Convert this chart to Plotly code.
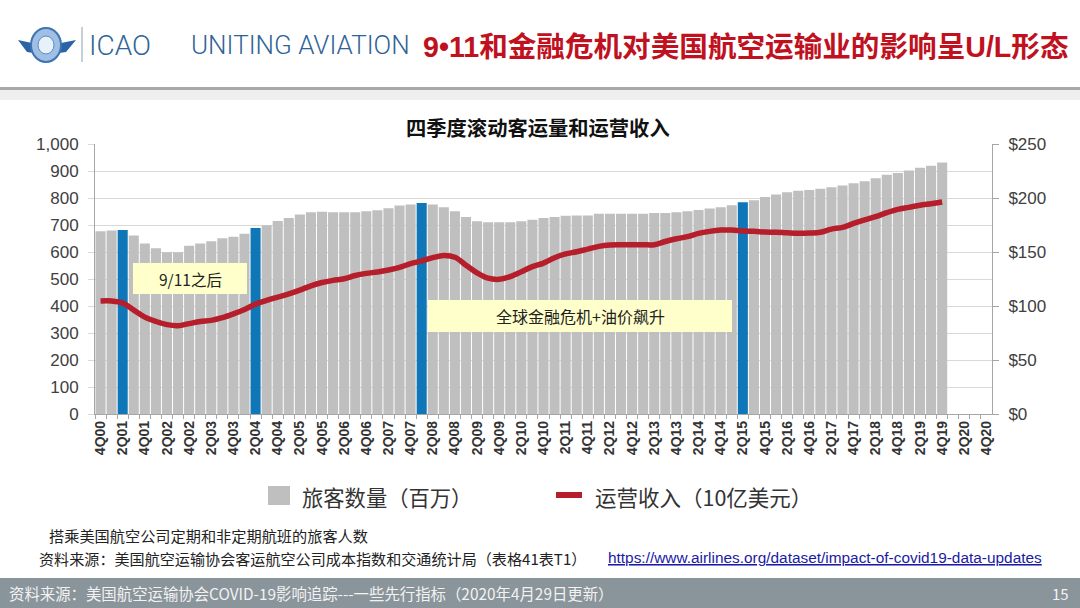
import plotly.graph_objects as go

W, H = 1080, 608


def fx(x):
    return x / W


def fy(y):
    return 1 - y / H


# ---------------- data ----------------
quarters = ["4Q00"] + [f"{q}Q{y:02d}" for y in range(1, 21) for q in range(1, 5)]

passengers = [678, 681, 683, 662, 633, 615, 600, 600, 624, 633, 641, 652, 658, 669,
              690, 700, 716, 727, 740, 748, 750, 748, 748, 748, 752, 756, 763, 773,
              777, 783, 777, 767, 752, 731, 715, 711, 711, 711, 715, 721, 727, 731,
              735, 736, 736, 743, 743, 743, 743, 743, 746, 746, 748, 752, 757, 762,
              767, 774, 785, 793, 805, 814, 822, 828, 831, 835, 841, 847, 856, 863,
              874, 887, 894, 903, 913, 921, 933]

revenue = [105, 105, 103, 96.5, 90, 86, 83, 82, 84, 86, 87, 89.5, 93, 97,
           102, 105.5, 108.5, 111.5, 115, 119, 122, 124, 125.5, 128.5, 130.5, 131.8, 133.6, 136,
           139.5, 142, 145, 147, 145.4, 138, 131, 126, 125, 127.5, 132, 136.7, 140, 145,
           148.5, 150.5, 153, 155.5, 156.8, 157, 157, 157, 157, 160, 162.5, 164.5, 167.5, 169.4,
           170.6, 170.6, 169.7, 169.4, 168.8, 168.5, 168, 167.6, 167.8, 168.5, 171.5, 173, 176.8, 180,
           183, 186.7, 189.8, 191.6, 193.5, 195, 196.6]

highlight = ["2Q01", "2Q04", "1Q08", "2Q15"]
left_ticks = [0, 100, 200, 300, 400, 500, 600, 700, 800, 900, 1000]
right_ticks = [0, 50, 100, 150, 200, 250]
right_ticktext = [f"${v}" for v in right_ticks]
x_ticktext = [q if i % 2 == 0 else "" for i, q in enumerate(quarters)]

bar_x = quarters[:len(passengers)]
bar_colors = ["#0f77b7" if q in highlight else "#bfbfbf" for q in bar_x]

# ---------------- figure ----------------
fig = go.Figure()
fig.add_trace(go.Bar(x=bar_x, y=passengers, marker=dict(color=bar_colors, line=dict(width=0)),
                     name="旅客数量（百万）", yaxis="y", showlegend=False))
fig.add_trace(go.Scatter(x=bar_x, y=revenue, mode="lines", name="运营收入（10亿美元）",
                         line=dict(color="#b51e2a", width=5.5, shape="spline", smoothing=1),
                         yaxis="y2", showlegend=False))

axis_col = "#a6a6a6"
grid_col = "#d9d9d9"
num_font = dict(family="Liberation Sans, Arial, sans-serif", size=17, color="#404040")
cjk = "Noto Sans CJK SC, sans-serif"

fig.update_layout(
    width=W, height=H, autosize=False,
    margin=dict(l=0, r=0, t=0, b=0, pad=0, autoexpand=False),
    paper_bgcolor="white", plot_bgcolor="white",
    bargap=0.09,
    xaxis=dict(
        type="category", categoryorder="array", categoryarray=quarters,
        range=[-0.5, len(quarters) - 0.5],
        domain=[fx(95), fx(992)], automargin=False,
        tickmode="array", tickvals=quarters, ticktext=x_ticktext,
        tickson="boundaries", ticks="outside", ticklen=4, tickcolor=axis_col,
        tickangle=-90, showgrid=False, showline=True, linecolor=axis_col, linewidth=1,
        tickfont=dict(family="Liberation Sans, Arial, sans-serif", size=14, color="#333333",
                      weight="bold"),
        fixedrange=True,
    ),
    yaxis=dict(
        range=[0, 1000], domain=[fy(414.3), fy(144.3)], automargin=False,
        tickmode="array", tickvals=left_ticks, tickformat=",",
        showgrid=True, gridcolor=grid_col, gridwidth=1, zeroline=False,
        showline=True, linecolor=axis_col, ticks="outside", ticklen=6, tickcolor=grid_col,
        ticklabelstandoff=6, tickfont=num_font, fixedrange=True,
    ),
    yaxis2=dict(
        range=[0, 250], overlaying="y", side="right", anchor="x", automargin=False,
        tickmode="array", tickvals=right_ticks, ticktext=right_ticktext,
        showgrid=False, zeroline=False, showline=True, linecolor=axis_col,
        ticks="outside", ticklen=6, tickcolor=axis_col, ticklabelstandoff=6,
        tickfont=num_font, fixedrange=True,
    ),
    hovermode=False,
)

shapes = []
annos = []

# header separator
shapes.append(dict(type="rect", xref="paper", yref="paper", x0=0, x1=1, y0=fy(90), y1=fy(87),
                   fillcolor="#a8a8a8", line=dict(width=0), layer="below"))
shapes.append(dict(type="rect", xref="paper", yref="paper", x0=0, x1=1, y0=fy(100), y1=fy(90),
                   fillcolor="#efefef", line=dict(width=0), layer="below"))

# simple logo
shapes.append(dict(type="path", xref="paper", yref="paper",
                   path=f"M {fx(18)} {fy(40)} L {fx(46)} {fy(46)} L {fx(76)} {fy(40)} L {fx(66)} {fy(52)} "
                        f"L {fx(46)} {fy(55)} L {fx(27)} {fy(52)} Z",
                   fillcolor="#2a63a6", line=dict(width=0)))
shapes.append(dict(type="circle", xref="paper", yref="paper", x0=fx(31), x1=fx(61), y0=fy(62), y1=fy(28),
                   fillcolor="#9fc0e4", line=dict(color="#3f74b3", width=2)))
shapes.append(dict(type="circle", xref="paper", yref="paper", x0=fx(38), x1=fx(54), y0=fy(54), y1=fy(36),
                   fillcolor="#e8f0f8", line=dict(color="#5a8cc4", width=1)))
shapes.append(dict(type="line", xref="paper", yref="paper", x0=fx(82), x1=fx(82), y0=fy(62), y1=fy(27),
                   line=dict(color="#8aa0b5", width=1)))

annos.append(dict(text="ICAO", x=fx(87), y=fy(45), xanchor="left", yanchor="middle",
                  font=dict(family="Roboto, sans-serif", size=28, color="#2e6496", weight=300)))
annos.append(dict(text="UNITING AVIATION", x=fx(189), y=fy(45), xanchor="left", yanchor="middle",
                  font=dict(family="Roboto, sans-serif", size=26, color="#2e6496", weight=300)))
annos.append(dict(text="<span style='font-family:Liberation Sans, Arial, sans-serif'>9•11</span>"
                       "和金融危机对美国航空运输业的影响呈"
                       "<span style='font-family:Liberation Sans, Arial, sans-serif'>U/L</span>形态",
                  x=fx(421), y=fy(44), xanchor="left", yanchor="middle",
                  font=dict(family=cjk, size=28.6, color="#c0111f", weight="bold")))

# chart title
annos.append(dict(text="四季度滚动客运量和运营收入", x=fx(538), y=fy(127), xanchor="center", yanchor="middle",
                  font=dict(family=cjk, size=20.3, color="#111111", weight="bold")))

# annotation boxes
shapes.append(dict(type="rect", xref="paper", yref="paper", x0=fx(133), x1=fx(247), y0=fy(294), y1=fy(263),
                   fillcolor="#ffffcc", line=dict(width=0)))
annos.append(dict(text="9/11之后", x=fx(190), y=fy(279), xanchor="center", yanchor="middle",
                  font=dict(family=cjk, size=15.5, color="#222222")))
shapes.append(dict(type="rect", xref="paper", yref="paper", x0=fx(428), x1=fx(732), y0=fy(332), y1=fy(300),
                   fillcolor="#ffffcc", line=dict(width=0)))
annos.append(dict(text="全球金融危机+油价飙升", x=fx(580), y=fy(316), xanchor="center", yanchor="middle",
                  font=dict(family=cjk, size=16, color="#222222")))

# legend
shapes.append(dict(type="rect", xref="paper", yref="paper", x0=fx(268), x1=fx(290), y0=fy(505), y1=fy(486),
                   fillcolor="#bfbfbf", line=dict(width=0)))
annos.append(dict(text="旅客数量（百万）", x=fx(300), y=fy(496), xanchor="left", yanchor="middle",
                  font=dict(family=cjk, size=21.3, color="#333333")))
shapes.append(dict(type="line", xref="paper", yref="paper", x0=fx(556), x1=fx(582), y0=fy(495), y1=fy(495),
                   line=dict(color="#b51e2a", width=6)))
annos.append(dict(text="运营收入（10亿美元）", x=fx(593), y=fy(496), xanchor="left", yanchor="middle",
                  font=dict(family=cjk, size=21.5, color="#333333")))

# notes
annos.append(dict(text="搭乘美国航空公司定期和非定期航班的旅客人数", x=fx(47), y=fy(535),
                  xanchor="left", yanchor="middle", font=dict(family=cjk, size=15.2, color="#222222")))
annos.append(dict(text="资料来源：美国航空运输协会客运航空公司成本指数和交通统计局（表格41表T1）", x=fx(37), y=fy(558),
                  xanchor="left", yanchor="middle", font=dict(family=cjk, size=15.1, color="#222222")))
annos.append(dict(text="<u>https://www.airlines.org/dataset/impact-of-covid19-data-updates</u>",
                  x=fx(606), y=fy(557), xanchor="left", yanchor="middle",
                  font=dict(family="Liberation Sans, Arial, sans-serif", size=15.4, color="#1a1aa6")))

# footer
shapes.append(dict(type="rect", xref="paper", yref="paper", x0=0, x1=1, y0=0, y1=fy(578),
                   fillcolor="#8a949b", line=dict(width=0)))
annos.append(dict(text="资料来源：美国航空运输协会COVID-19影响追踪---一些先行指标（2020年4月29日更新）",
                  x=fx(7), y=fy(593), xanchor="left", yanchor="middle",
                  font=dict(family=cjk, size=15.4, color="#f2f2f2")))
annos.append(dict(text="15", x=fx(1071), y=fy(593), xanchor="right", yanchor="middle",
                  font=dict(family=cjk, size=15, color="#f2f2f2")))

for a in annos:
    a.update(xref="paper", yref="paper", showarrow=False)

fig.update_layout(shapes=shapes, annotations=annos)

fig.write_html("out.html", config=dict(displayModeBar=False, staticPlot=True),
               post_script="document.body.style.margin='0';document.body.style.padding='0';")
